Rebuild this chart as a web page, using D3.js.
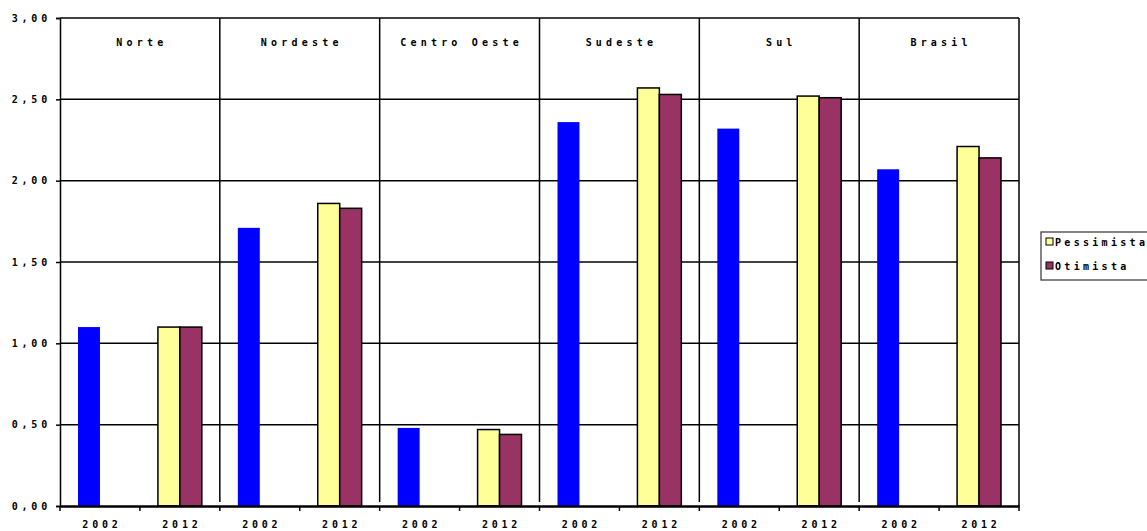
<!DOCTYPE html>
<html>
<head>
<meta charset="utf-8">
<script src="https://cdn.jsdelivr.net/npm/d3@7"></script>
<style>
  html, body { margin: 0; padding: 0; background: #fff; }
  svg { display: block; }
  text { font-family: "DejaVu Sans Mono", monospace; font-size: 10px; font-weight: bold; letter-spacing: 3.8px; fill: #000; }
</style>
</head>
<body>
<div id="chart"></div>
<script>
// regions and years on the x axis
const regions = ["Norte", "Nordeste", "Centro Oeste", "Sudeste", "Sul", "Brasil"];
const years = ["2002", "2012"];

// values
const v2002 = [1.10, 1.71, 0.48, 2.36, 2.32, 2.07];
const pessimista = [1.10, 1.86, 0.47, 2.57, 2.52, 2.21];
const otimista = [1.10, 1.83, 0.44, 2.53, 2.51, 2.14];

const yTicks = [0, 0.5, 1, 1.5, 2, 2.5, 3];
const seriesNames = ["Pessimista", "Otimista"];
const colors = { blue: "#0000ff", pess: "#ffff99", otim: "#993366" };

const W = 1147, H = 531;
const margin = { top: 18, right: 128, bottom: 25, left: 60 };
const width = W - margin.left - margin.right,
    height = H - margin.top - margin.bottom;

const fmt = d => d3.format(".2f")(d).replace(".", ",");

// one band per region/year pair
let cats = [];
regions.forEach((r, i) => years.forEach(y => cats.push({ region: r, idx: i, year: y })));

const x = d3.scaleBand()
    .domain(cats.map(d => d.region + "|" + d.year))
    .range([0, width]);

const inner = d3.scaleBand()
    .domain([0, 1])
    .range([0, x.bandwidth()])
    .paddingOuter(0.82);

const y = d3.scaleLinear().domain([0, 3]).range([height, 0]);

const svg = d3.select("#chart").append("svg")
    .attr("width", W).attr("height", H);

const g = svg.append("g").attr("transform", `translate(${margin.left},${margin.top})`);

// horizontal gridlines
g.selectAll(".grid").data(yTicks.slice(1))
    .enter().append("line")
    .attr("x1", 0).attr("x2", width)
    .attr("y1", d => y(d)).attr("y2", d => y(d))
    .attr("stroke", "#000").attr("stroke-width", 1.5);

// right border
g.append("line")
    .attr("x1", width).attr("x2", width)
    .attr("y1", 0).attr("y2", height)
    .attr("stroke", "#000").attr("stroke-width", 1.5);

// region separators
g.selectAll(".sep").data(regions.slice(1))
    .enter().append("line")
    .attr("x1", (d, i) => x(regions[i + 1] + "|2002"))
    .attr("x2", (d, i) => x(regions[i + 1] + "|2002"))
    .attr("y1", 0).attr("y2", y(0) - 4)
    .attr("stroke", "#000").attr("stroke-width", 1.5);

// region labels
g.selectAll(".reg").data(regions)
    .enter().append("text")
    .attr("x", d => x(d + "|2012") + 2)
    .attr("y", 28)
    .attr("text-anchor", "middle")
    .style("letter-spacing", "4.2px")
    .text(d => d);

// bars
let bars = [];
regions.forEach((r, i) => {
    bars.push({ key: r + "|2002", slot: 0, v: v2002[i], c: colors.blue, stroke: "none" });
    bars.push({ key: r + "|2012", slot: 0, v: pessimista[i], c: colors.pess, stroke: "#000" });
    bars.push({ key: r + "|2012", slot: 1, v: otimista[i], c: colors.otim, stroke: "#000" });
});

g.selectAll(".bar").data(bars)
    .enter().append("rect")
    .attr("x", d => x(d.key) + inner(d.slot))
    .attr("y", d => y(d.v))
    .attr("width", inner.bandwidth())
    .attr("height", d => y(0) - y(d.v))
    .attr("fill", d => d.c)
    .attr("stroke", d => d.stroke)
    .attr("stroke-width", 1.5);

// y axis
const yAxis = g.append("g")
    .call(d3.axisLeft(y).tickValues(yTicks).tickFormat(fmt).tickSize(4));
yAxis.select(".domain").attr("stroke-width", 1.5);
yAxis.selectAll(".tick line").attr("stroke-width", 1.5);
yAxis.selectAll("text").attr("dx", "-2");

// x axis
const xAxis = g.append("g")
    .attr("transform", `translate(0,${height})`)
    .call(d3.axisBottom(x).tickFormat(d => d.split("|")[1]).tickSize(0));
xAxis.select(".domain").attr("stroke-width", 2.5);
xAxis.selectAll("text").attr("dy", "1.9em").attr("dx", "2");
// ticks between categories
xAxis.selectAll(".sepTick").data(d3.range(cats.length + 1))
    .enter().append("line")
    .attr("x1", d => d * x.step()).attr("x2", d => d * x.step())
    .attr("y1", 0).attr("y2", 5)
    .attr("stroke", "#000").attr("stroke-width", 1.5);
g.selectAll(".tick text").attr("font-family", null).attr("font-size", null);

// legend (box runs off the right edge like the original)
const lg = svg.append("g").attr("transform", "translate(1041,232)");
lg.append("rect")
    .attr("width", 130).attr("height", 48)
    .attr("fill", "#fff").attr("stroke", "#333").attr("stroke-width", 1.2);
const li = lg.selectAll(".li").data(seriesNames).enter().append("g")
    .attr("transform", (d, i) => `translate(5,${6 + i * 24})`);
li.append("rect")
    .attr("width", 7).attr("height", 7)
    .attr("fill", (d, i) => i ? colors.otim : colors.pess)
    .attr("stroke", "#000").attr("stroke-width", 1);
li.append("text")
    .attr("x", 9).attr("y", 7.5)
    .style("letter-spacing", "3.3px")
    .text(d => d);
</script>
</body>
</html>
